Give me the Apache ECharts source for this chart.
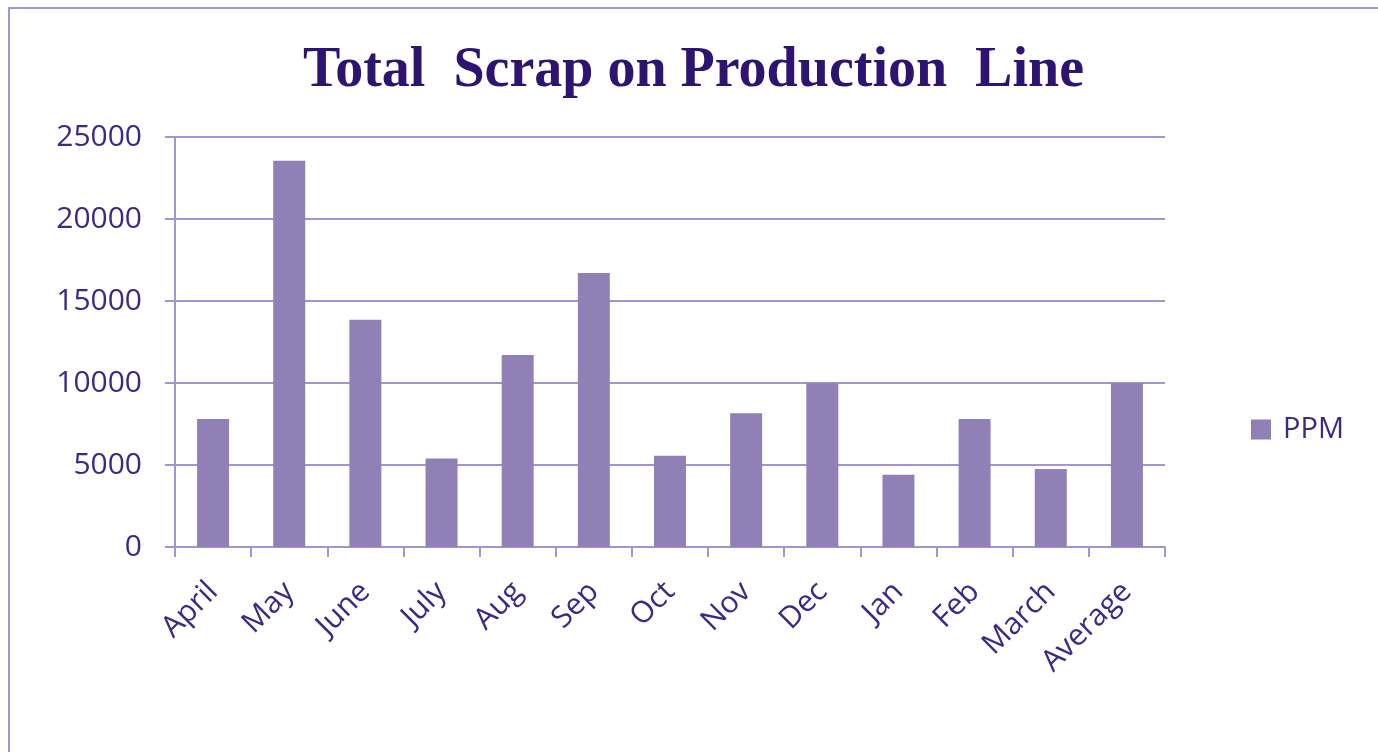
<!DOCTYPE html>
<html>
<head>
<meta charset="utf-8">
<title>Total Scrap on Production Line</title>
<script src="https://cdn.jsdelivr.net/npm/echarts@6/dist/echarts.min.js"></script>
<style>
  html, body { margin: 0; padding: 0; background: #ffffff; }
  #frame {
    position: absolute; left: 8px; top: 7px; right: -4px; bottom: -4px;
    border-top: 2px solid #a393d3; border-left: 2px solid #a393d3;
  }
  #chart { position: absolute; left: 0; top: 0; width: 1378px; height: 752px; }
</style>
</head>
<body>
<div id="frame"></div>
<div id="chart"></div>
<script>
// Monthly scrap, in parts per million
const categories = ['April', 'May', 'June', 'July', 'Aug', 'Sep', 'Oct', 'Nov', 'Dec', 'Jan', 'Feb', 'March', 'Average'];
const ppm = [7800, 23550, 13850, 5400, 11700, 16700, 5560, 8160, 9990, 4400, 7800, 4750, 10000];
const yTicks = [0, 5000, 10000, 15000, 20000, 25000];
const seriesName = 'PPM';
const chartTitle = 'Total  Scrap on Production  Line';

const textColor = '#3b2a84';
const lineColor = '#a393d3';
const barColor = '#9080b6';

const chart = echarts.init(document.getElementById('chart'), null, { renderer: 'canvas' });
chart.setOption({
  backgroundColor: 'transparent',
  animation: false,
  title: {
    text: chartTitle,
    left: 303,
    top: 44,
    padding: 0,
    textStyle: {
      fontFamily: 'Liberation Serif',
      fontWeight: 'bold',
      fontSize: 56,
      color: '#2c1470'
    }
  },
  legend: {
    data: [seriesName],
    orient: 'vertical',
    left: 1251,
    top: 415,
    padding: 0,
    itemWidth: 20,
    itemHeight: 20,
    itemGap: 8,
    icon: 'rect',
    textStyle: { fontFamily: 'Open Sans', fontSize: 29, color: textColor, padding: [0, 0, 0, 7] }
  },
  grid: { left: 175, right: 213, top: 137, bottom: 205, containLabel: false },
  xAxis: {
    type: 'category',
    data: categories,
    axisLine: { lineStyle: { color: lineColor, width: 2 } },
    axisTick: { show: true, length: 10, lineStyle: { color: lineColor, width: 2 } },
    axisLabel: {
      rotate: 45,
      margin: 40,
      interval: 0,
      fontFamily: 'Open Sans',
      fontSize: 30,
      color: textColor
    }
  },
  yAxis: {
    type: 'value',
    min: yTicks[0],
    max: yTicks[yTicks.length - 1],
    interval: yTicks[1] - yTicks[0],
    axisLine: { show: true, lineStyle: { color: lineColor, width: 2 } },
    axisTick: { show: true, length: 10, lineStyle: { color: lineColor, width: 2 } },
    splitLine: { lineStyle: { color: lineColor, width: 2 } },
    axisLabel: {
      margin: 33,
      fontFamily: 'Open Sans',
      fontSize: 30,
      color: textColor,
      formatter: (v) => String(v)
    }
  },
  series: [{
    name: seriesName,
    type: 'bar',
    data: ppm,
    barWidth: '42%',
    itemStyle: { color: barColor }
  }]
});
</script>
</body>
</html>
